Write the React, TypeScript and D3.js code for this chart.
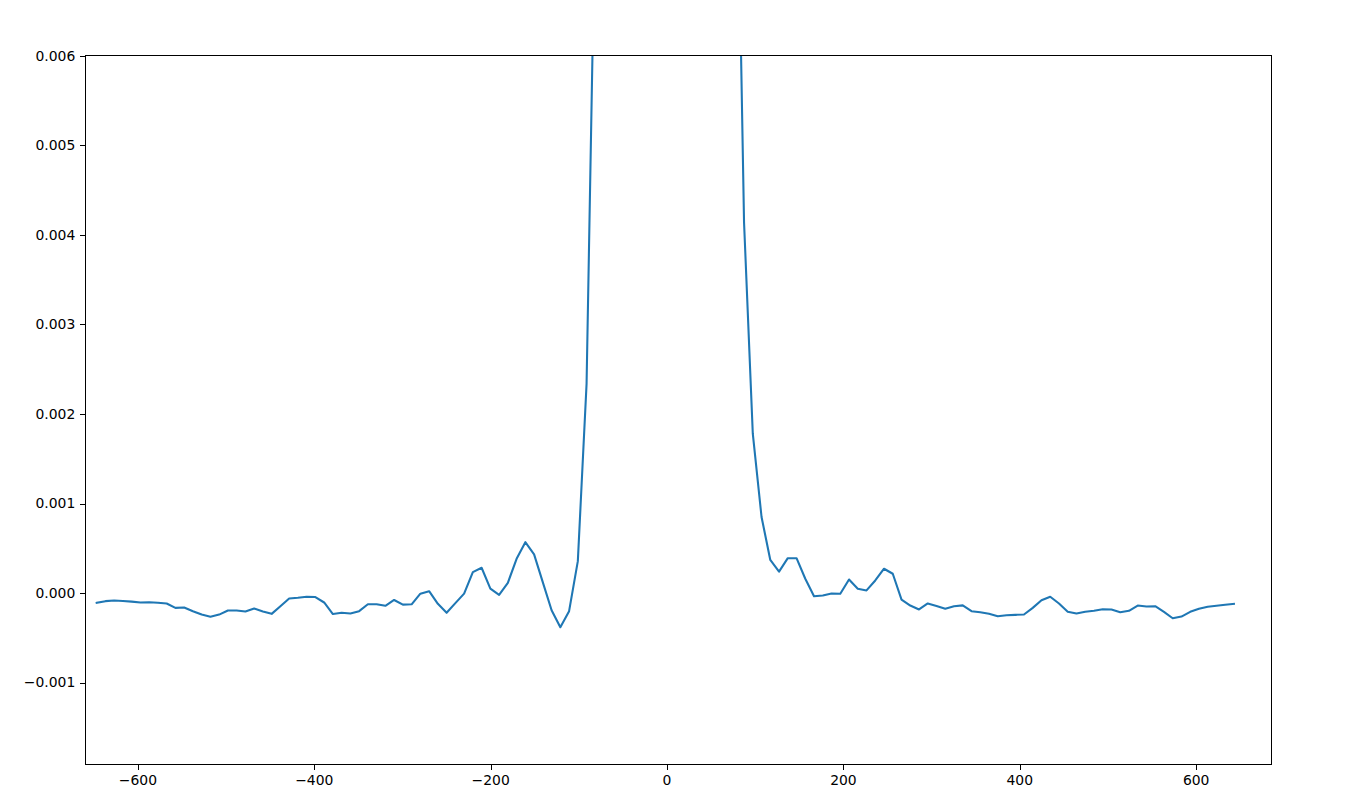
import React from "react";
import * as d3 from "d3";

// Lag index of each sample (centre sample = 0)
const lagIndex: number[] = d3.range(-65, 66);
const LAG_STEP = 9.92;
const LAG_OFFSET = -1.95;

// Series values (one per lag index)
const values: number[] = [
  -0.000109, -0.00009, -0.000083, -0.000088, -0.000095, -0.000105, -0.000103, -0.000108,
  -0.000116, -0.000165, -0.000161, -0.000202, -0.00024, -0.000265, -0.00024, -0.000195,
  -0.000195, -0.000206, -0.000172, -0.000206, -0.000232, -0.000146, -0.00006, -0.000052,
  -0.000041, -0.000044, -0.000105, -0.000234, -0.00022, -0.000228, -0.000202, -0.000125,
  -0.000125, -0.000142, -0.000077, -0.000129, -0.000125, -0.000006, 0.000021, -0.00012,
  -0.00022, -0.000112, -0.000006, 0.000234, 0.000283, 0.000051, -0.000019, 0.000115,
  0.000383, 0.000569, 0.000432, 0.00012, -0.000191, -0.000381, -0.000202, 0.000357,
  0.00234, 0.0078,
  0.018, 0.035, 0.06, 0.1, 0.16, 0.25, 0.38, 1.0, 0.38, 0.25, 0.16, 0.1, 0.06, 0.035, 0.02,
  0.0096, 0.00414, 0.00178, 0.00085, 0.00037, 0.00024, 0.00039, 0.00039, 0.00016,
  -0.000035, -0.000027, -0.000005, -0.000008, 0.000152, 0.000048, 0.00003, 0.000141,
  0.000272, 0.000216, -0.000072, -0.000139, -0.000183, -0.000116, -0.000143, -0.000174,
  -0.000146, -0.000137, -0.000202, -0.000213, -0.000231, -0.000258, -0.000247, -0.000243,
  -0.000239, -0.000165, -0.000079, -0.000041, -0.000116, -0.000209, -0.000228, -0.000209,
  -0.000198, -0.00018, -0.000183, -0.000213, -0.000198, -0.000139, -0.00015, -0.000146,
  -0.000209, -0.000281, -0.000262, -0.000209, -0.000176, -0.000153, -0.000142, -0.000131,
  -0.00012,
];

const xTicks: number[] = [-600, -400, -200, 0, 200, 400, 600];
const yTicks: number[] = [-0.001, 0, 0.001, 0.002, 0.003, 0.004, 0.005, 0.006];

const W = 1355;
const H = 810;
const left = 85;
const right = 1272;
const top = 55;
const bottom = 765;

export default function App() {
  const x = d3.scaleLinear().domain([-660, 686]).range([left, right]);
  const y = d3.scaleLinear().domain([-0.00192, 0.00601]).range([bottom, top]);

  const data = lagIndex.map((l, i) => ({ x: LAG_OFFSET + l * LAG_STEP, y: values[i] }));
  const line = d3
    .line<{ x: number; y: number }>()
    .x((d) => x(d.x))
    .y((d) => y(d.y));

  const fmtY = (v: number) => {
    const s = Math.abs(v).toFixed(3);
    return v < -1e-12 ? "\u2212" + s : s;
  };
  const fmtX = (v: number) => (v < 0 ? "\u2212" + Math.abs(v) : String(v));

  const font = "'DejaVu Sans', sans-serif";
  const fs = 13.9;
  const tickLen = 4.86;
  const pad = 4.86;

  return (
    <svg
      width={W}
      height={H}
      style={{ position: "absolute", left: 0, top: 0, background: "#fff" }}
    >
      <defs>
        <clipPath id="plotClip">
          <rect x={left} y={top} width={right - left} height={bottom - top} />
        </clipPath>
      </defs>
      <rect x={0} y={0} width={W} height={H} fill="#fff" />
      <path
        d={line(data) || ""}
        fill="none"
        stroke="#1f77b4"
        strokeWidth={2.08}
        strokeLinejoin="round"
        strokeLinecap="square"
        clipPath="url(#plotClip)"
      />
      <rect
        x={left + 0.5}
        y={top + 0.5}
        width={right - left - 1}
        height={bottom - top - 1}
        fill="none"
        stroke="#000"
        strokeWidth={1}
        shapeRendering="crispEdges"
      />
      {xTicks.map((t) => (
        <g key={"x" + t}>
          <line
            x1={Math.round(x(t)) + 0.5}
            x2={Math.round(x(t)) + 0.5}
            y1={bottom}
            y2={bottom + tickLen}
            stroke="#000"
            strokeWidth={1}
            shapeRendering="crispEdges"
          />
          <text
            x={x(t)}
            y={bottom + tickLen + pad}
            dy="0.76em"
            textAnchor="middle"
            fontFamily={font}
            fontSize={fs}
            fill="#000"
          >
            {fmtX(t)}
          </text>
        </g>
      ))}
      {yTicks.map((t) => (
        <g key={"y" + t}>
          <line
            x1={left - tickLen}
            x2={left}
            y1={Math.round(y(t)) + 0.5}
            y2={Math.round(y(t)) + 0.5}
            stroke="#000"
            strokeWidth={1}
            shapeRendering="crispEdges"
          />
          <text
            x={left - tickLen - pad}
            y={y(t)}
            dy="0.35em"
            textAnchor="end"
            fontFamily={font}
            fontSize={fs}
            fill="#000"
          >
            {fmtY(t)}
          </text>
        </g>
      ))}
    </svg>
  );
}
